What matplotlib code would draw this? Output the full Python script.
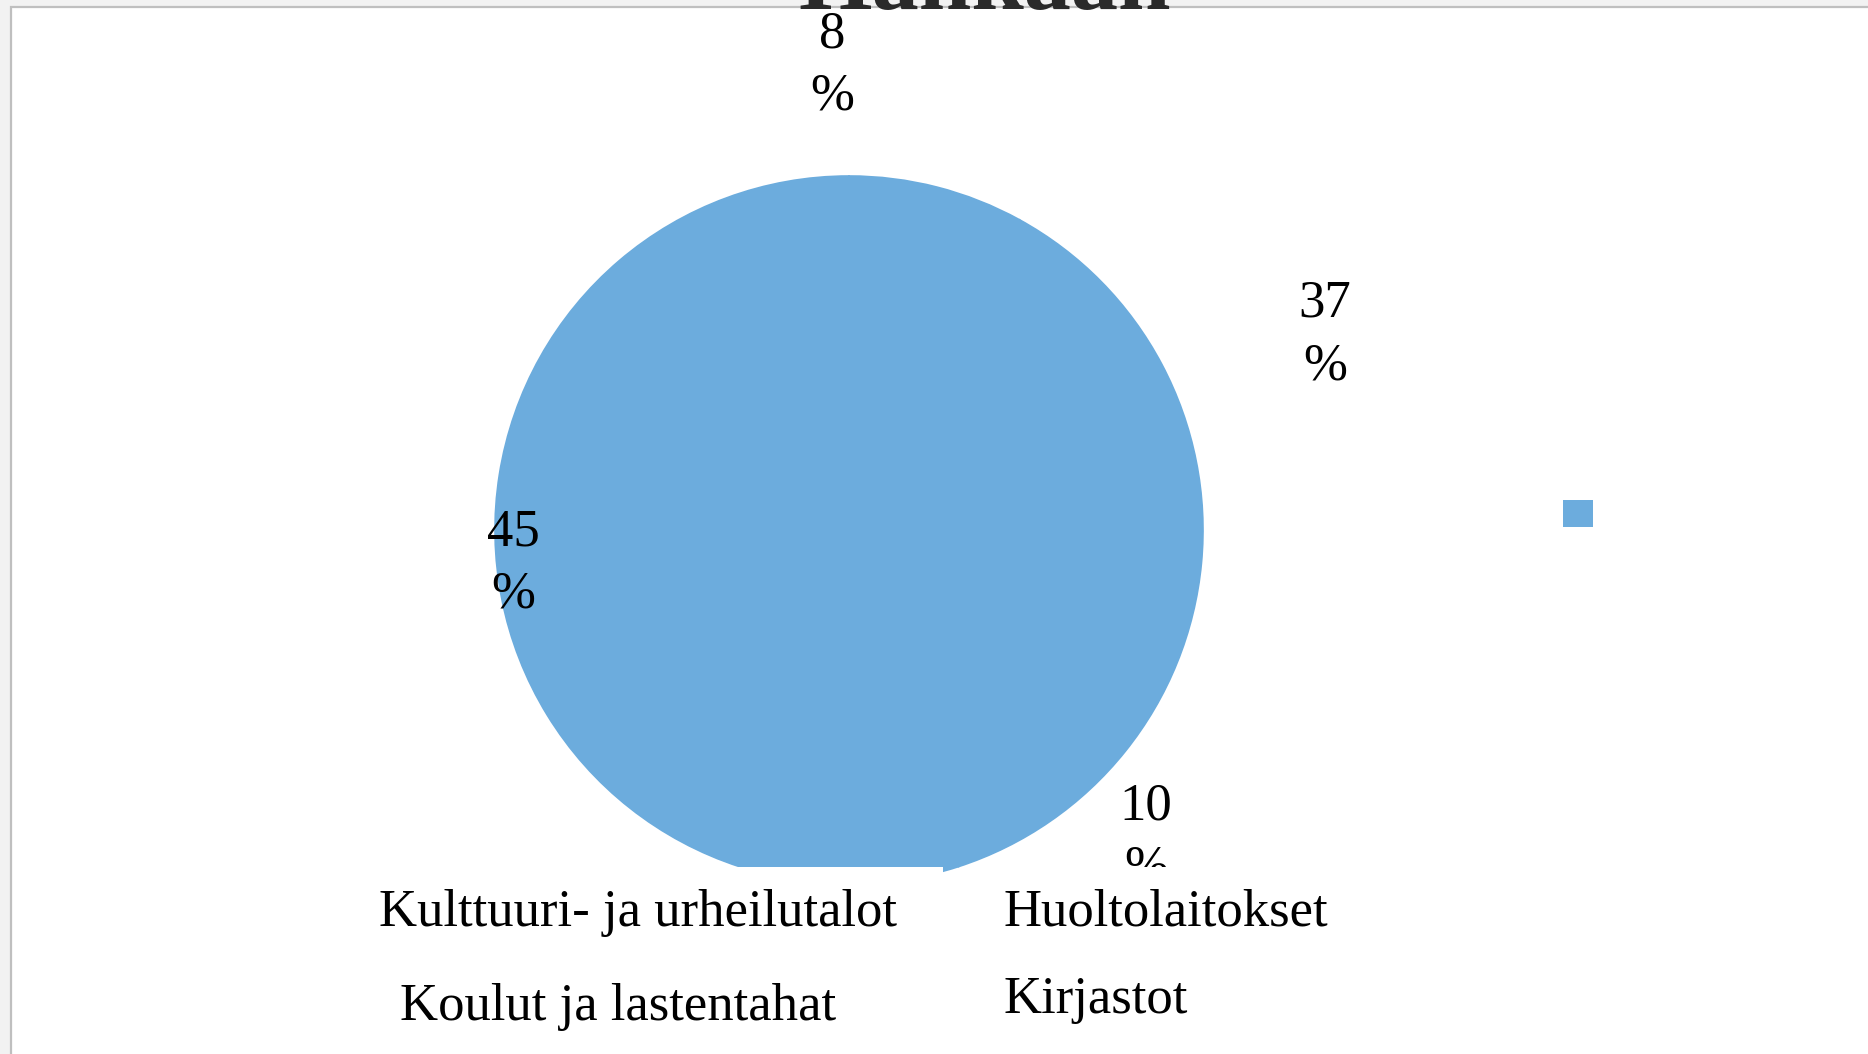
import matplotlib
matplotlib.use("Agg")
import matplotlib.pyplot as plt
from matplotlib.patches import Rectangle, Patch
from matplotlib.transforms import Bbox

# ---- data ----
categories = ["Kulttuuri- ja urheilutalot", "Huoltolaitokset",
              "Koulut ja lastentahat", "Kirjastot"]
values = [8, 37, 10, 45]
title = "Hankaan"

# ---- layout / style ----
W, H = 1868, 1054
DPI = 100
color = "#6CACDD"
serif = ["Liberation Serif", "DejaVu Serif"]

fig = plt.figure(figsize=(W / DPI, H / DPI), dpi=DPI, facecolor="#F2F2F2")

def fx(px):
    return px / W

def fy(py):
    return 1 - py / H

# chart area frame (extends past right/bottom of the image)
frame = Rectangle((fx(10.5), -0.05), 1.2, fy(6.5) + 0.05, transform=fig.transFigure,
                  facecolor="white", edgecolor="#BFBFBF", linewidth=1.6, zorder=-5)
fig.patches.append(frame)

# pie axes: square, circle centre (849,530) radius 354 px
cx, cy, r = 849, 530, 354
ax = fig.add_axes([fx(cx - r), fy(cy + r), (2 * r) / W, (2 * r) / H])
ax.set_facecolor("none")
ax.pie(values, colors=[color] * len(values), startangle=90, counterclock=False,
       radius=1, wedgeprops=dict(linewidth=1.2, edgecolor=color, antialiased=True))
ax.set_xlim(-1, 1)
ax.set_ylim(-1, 1)
ax.axis("off")

# white legend box covering the lower part of the pie
cover = Rectangle((fx(300), -0.05), fx(943) - fx(300), fy(867) + 0.05,
                  transform=fig.transFigure, facecolor="white", edgecolor="none", zorder=1)
fig.patches.append(cover)

# clipped title (only its bottom visible)
fig.text(fx(985), fy(9), title, ha="center", va="baseline", family=serif,
         fontweight="bold", fontsize=68, color="#2a2a2a", zorder=3)

# percentage labels (y = baseline of the "%" line)
label_pos = [(832, 110), (1325, 379), (1146, 882), (513, 608)]
plot_clip = Bbox.from_extents(0, H - 867, W, H)
for v, (px, py) in zip(values, label_pos):
    t = fig.text(fx(px), fy(py), f"{v}\n%", ha="center", va="baseline",
                 family=serif, fontsize=38, linespacing=1.38, color="black", zorder=2)
    t.set_clip_box(plot_clip)
    t.set_clip_on(True)

# legend entries (text only)
legend_pos = [(379, 926), (1004, 926), (400, 1020), (1004, 1013)]
for name, (px, py) in zip(categories, legend_pos):
    fig.text(fx(px), fy(py), name, ha="left", va="baseline", family=serif,
             fontsize=38, color="black", zorder=4)

# lone legend marker on the right
fig.legend(handles=[Patch(facecolor=color, edgecolor="none")], labels=[""],
           loc="center", bbox_to_anchor=(fx(1578), fy(515)), frameon=False,
           fontsize=22.3, handlelength=1, handleheight=1, handletextpad=0,
           borderpad=0, borderaxespad=0)

fig.savefig("out.png", dpi=DPI, facecolor=fig.get_facecolor())
